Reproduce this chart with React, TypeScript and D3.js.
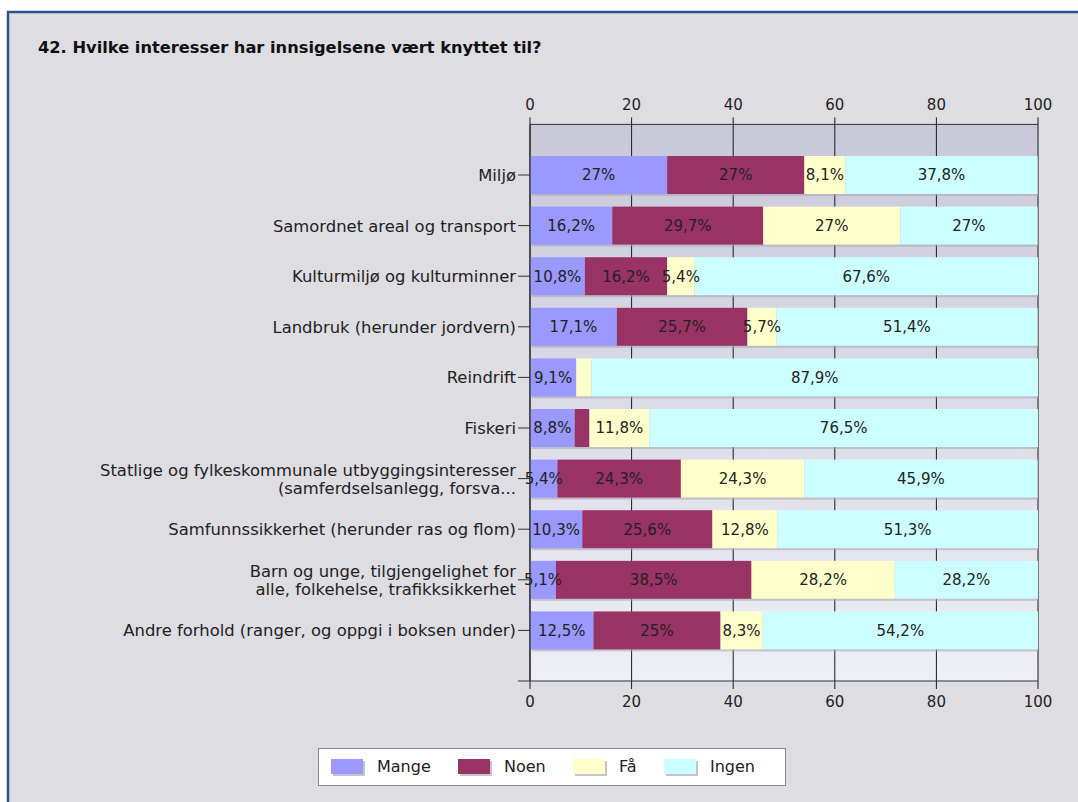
import React from 'react';
import * as d3 from 'd3';

const title = '42. Hvilke interesser har innsigelsene vært knyttet til?';
const categories = [
  'Miljø',
  'Samordnet areal og transport',
  'Kulturmiljø og kulturminner',
  'Landbruk (herunder jordvern)',
  'Reindrift',
  'Fiskeri',
  'Statlige og fylkeskommunale utbyggingsinteresser\n(samferdselsanlegg, forsva...',
  'Samfunnssikkerhet (herunder ras og flom)',
  'Barn og unge, tilgjengelighet for\nalle, folkehelse, trafikksikkerhet',
  'Andre forhold (ranger, og oppgi i boksen under)',
];
const seriesNames = ['Mange', 'Noen', 'Få', 'Ingen'];
const mange = [27, 16.2, 10.8, 17.1, 9.1, 8.8, 5.4, 10.3, 5.1, 12.5];
const noen = [27, 29.7, 16.2, 25.7, 0, 2.9, 24.3, 25.6, 38.5, 25];
const faa = [8.1, 27, 5.4, 5.7, 3.0, 11.8, 24.3, 12.8, 28.2, 8.3];
const ingen = [37.8, 27, 67.6, 51.4, 87.9, 76.5, 45.9, 51.3, 28.2, 54.2];
const xTicks = [0, 20, 40, 60, 80, 100];
const colors = ['#9999ff', '#993366', '#ffffcc', '#ccffff'];

const FONT = '"DejaVu Sans", Verdana, sans-serif';

export default function App() {
  const W = 1078;
  const H = 802;
  const left = 530;
  const right = 1038;
  const top = 124.4;
  const bottom = 681;

  const x = d3.scaleLinear().domain([0, 100]).range([left, right]);
  const y = d3.scaleLinear().domain([0, categories.length + 1]).range([top, bottom]);
  const band = y(1) - y(0);
  const barH = band * 0.75;

  const table = categories.map((c, i) => ({
    cat: c,
    Mange: mange[i],
    Noen: noen[i],
    Få: faa[i],
    Ingen: ingen[i],
  }));
  const stacked = d3.stack<any>().keys(seriesNames)(table);

  const fmt = (v: number) => String(v).replace('.', ',') + '%';

  const legendX = [331, 458, 573, 664];

  return (
    <svg
      width={W}
      height={H}
      style={{ position: 'absolute', left: 0, top: 0, fontFamily: FONT }}
    >
      <defs>
        <linearGradient id="plotbg" x1="0" y1="0" x2="0" y2="1">
          <stop offset="0%" stopColor="#c9c8d8" />
          <stop offset="100%" stopColor="#eeeef6" />
        </linearGradient>
      </defs>
      <rect x={0} y={0} width={W} height={H} fill="#ffffff" />
      <rect x={8} y={12} width={W + 20} height={H + 20} fill="#dedde2" stroke="#2c5388" strokeWidth={2.5} />

      <text x={38} y={53} fontSize={16.25} fontWeight="bold" fill="#111">
        {title}
      </text>

      {/* plot background */}
      <rect x={left} y={top} width={right - left} height={bottom - top} fill="url(#plotbg)" />

      {/* grid lines */}
      {xTicks.map((t) => (
        <line key={'g' + t} x1={x(t)} x2={x(t)} y1={top - 7} y2={bottom + 8} stroke="#1a1a1a" strokeWidth={1} />
      ))}
      <line x1={left} x2={right} y1={top} y2={top} stroke="#333" strokeWidth={1} />

      {/* bar shadows */}
      {categories.map((c, i) => (
        <rect
          key={'sh' + i}
          x={x(0) + 2}
          y={y(i + 1) - barH / 2 + 2}
          width={x(100) - x(0) - 2}
          height={barH}
          fill="#a9a9b4"
          opacity={0.6}
        />
      ))}

      {/* bars */}
      {stacked.map((s, si) =>
        s.map((d, i) =>
          d[1] - d[0] > 0 ? (
            <rect
              key={si + '-' + i}
              x={x(d[0])}
              y={y(i + 1) - barH / 2}
              width={x(d[1]) - x(d[0])}
              height={barH}
              fill={colors[si]}
            />
          ) : null
        )
      )}

      {/* value labels */}
      {stacked.map((s, si) =>
        s.map((d, i) => {
          const raw = [mange, noen, faa, ingen][si][i];
          if (raw < 4) return null;
          return (
            <text
              key={'l' + si + '-' + i}
              x={x((d[0] + d[1]) / 2)}
              y={y(i + 1)}
              dy="0.36em"
              textAnchor="middle"
              fontSize={15}
              fill="#222"
            >
              {fmt(raw)}
            </text>
          );
        })
      )}

      {/* left axis */}
      <line x1={left} x2={left} y1={top} y2={bottom} stroke="#333" strokeWidth={1.3} />
      <line x1={left - 12} x2={right} y1={bottom} y2={bottom} stroke="#333" strokeWidth={1} />
      {categories.map((c, i) => {
        const lines = c.split('\n');
        const cy = y(i + 1);
        const lh = 18;
        return (
          <g key={'c' + i}>
            <line x1={left - 12} x2={left} y1={cy} y2={cy} stroke="#333" strokeWidth={1} />
            <text x={516} y={cy} textAnchor="end" fontSize={16.4} fill="#222">
              {lines.map((ln, k) => (
                <tspan key={k} x={516} y={cy + (k - (lines.length - 1) / 2) * lh} dy="0.36em">
                  {ln}
                </tspan>
              ))}
            </text>
          </g>
        );
      })}

      {/* tick labels */}
      {xTicks.map((t) => (
        <g key={'t' + t}>
          <text x={x(t)} y={110} textAnchor="middle" fontSize={15} fill="#222">
            {t}
          </text>
          <text x={x(t)} y={707} textAnchor="middle" fontSize={15} fill="#222">
            {t}
          </text>
        </g>
      ))}

      {/* legend */}
      <rect x={318.5} y={748.5} width={467} height={37} fill="#ffffff" stroke="#8a8a8a" strokeWidth={1} />
      {seriesNames.map((n, i) => (
        <g key={'lg' + i}>
          <rect x={legendX[i] + 2} y={761} width={32} height={15} fill="#c4c4cc" />
          <rect x={legendX[i]} y={759} width={32} height={15} fill={colors[i]} />
          <text x={legendX[i] + 46} y={772} fontSize={16} fill="#222">
            {n}
          </text>
        </g>
      ))}
    </svg>
  );
}
